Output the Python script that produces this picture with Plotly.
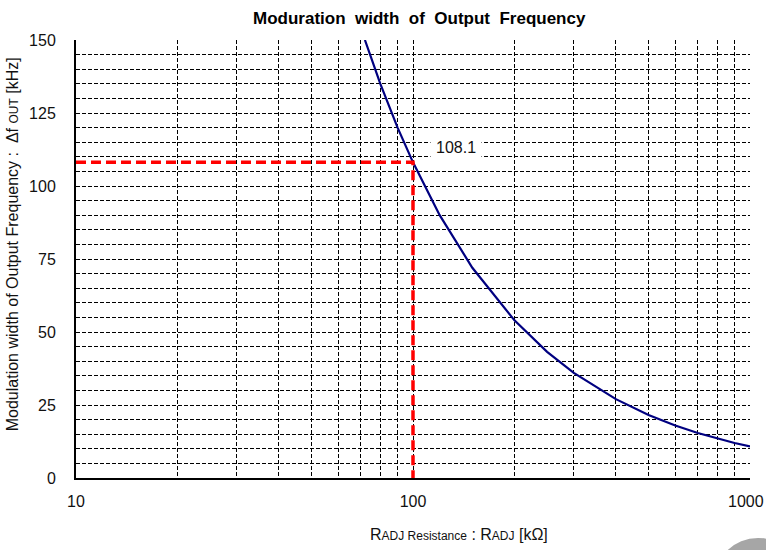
import math
import plotly.graph_objects as go

# Data
r_adj = [72, 80, 90, 100, 120, 150, 200, 250, 300, 400, 500, 600, 700, 800, 900, 1000]
delta_f = [150, 135, 120, 108.1, 90, 72, 54, 43.2, 36, 27, 21.6, 18, 15.4, 13.5, 12, 10.8]
marker_x = [10, 100, 100]
marker_y = [108.1, 108.1, 0]
marker_label = "108.1"
x_tickvals = [10, 20, 30, 40, 50, 60, 70, 80, 90, 100, 200, 300, 400, 500, 600, 700, 800, 900, 1000]
x_ticktext = ["10", "", "", "", "", "", "", "", "", "100", "", "", "", "", "", "", "", "", ""]
x_edge_label = (1000, "1000")
y_tickvals = list(range(0, 151, 5))
y_ticktext = [str(v) if v % 25 == 0 else "" for v in y_tickvals]

W, H = 766, 550
L, R, T, B = 76, 16, 39.5, 72
pw, ph = W - L - R, H - T - B

def px(x):
    return (x - L) / pw

def py(y):
    return (H - B - y) / ph

FONT = "Liberation Sans, Arial, sans-serif"

fig = go.Figure()
fig.add_trace(go.Scatter(x=r_adj, y=delta_f, mode="lines",
                         line=dict(color="#000080", width=2.2), hoverinfo="x+y"))
fig.add_trace(go.Scatter(x=marker_x, y=marker_y, mode="lines",
                         line=dict(color="#ff0000", width=3.5, dash="10px,5px")))

fig.update_layout(
    width=W, height=H,
    margin=dict(l=L, r=R, t=T, b=B),
    paper_bgcolor="white", plot_bgcolor="white",
    showlegend=False,
    font=dict(family=FONT, color="#111111", size=16),
)
fig.update_xaxes(type="log", range=[1, 3], tickvals=x_tickvals, ticktext=x_ticktext,
                 showgrid=True, gridcolor="black", griddash="4px,2px", gridwidth=1,
                 showline=True, linecolor="black", linewidth=2, ticks="",
                 ticklabelstandoff=8, zeroline=False, automargin=False,
                 ticklabeloverflow="allow", tickfont=dict(size=16))
fig.update_yaxes(range=[0, 150], tickvals=y_tickvals, ticktext=y_ticktext,
                 showgrid=True, gridcolor="black", griddash="4px,2px", gridwidth=1,
                 showline=True, linecolor="black", linewidth=2, ticks="",
                 ticklabelstandoff=15, zeroline=False, automargin=False,
                 ticklabeloverflow="allow", tickfont=dict(size=16))

ann = dict(xref="paper", yref="paper", xanchor="center", yanchor="middle", showarrow=False)
fig.add_annotation(x=px(419), y=py(18), text="<b>Moduration  width  of  Output  Frequency</b>",
                   font=dict(size=17, color="black"), **ann)
fig.add_annotation(x=px(12), y=py(244), textangle=-90,
                   text="Modulation width of Output Frequency :  Δf <span style='font-size:12px'>OUT</span> [kHz]",
                   font=dict(size=16, color="#111111"), **ann)
fig.add_annotation(x=px(459), y=py(535),
                   text="R<span style='font-size:12px'>ADJ Resistance</span> : R<span style='font-size:12px'>ADJ</span> [kΩ]",
                   font=dict(size=16, color="#111111"), **ann)
fig.add_annotation(x=px(456), y=py(147), text=marker_label, bgcolor="white", borderpad=5,
                   font=dict(size=16, color="#111111"), **ann)
# right-edge tick label, nudged so it stays inside the page
fig.add_annotation(x=math.log10(x_edge_label[0]), xref="x", y=py(502), yref="paper",
                   text=x_edge_label[1], xanchor="center", yanchor="middle", xshift=-4,
                   showarrow=False, font=dict(size=16, color="#111111"))

fig.add_shape(type="circle", xref="paper", yref="paper",
              x0=px(758 - 44), x1=px(758 + 44), y0=py(582 + 44), y1=py(582 - 44),
              fillcolor="#a6a6a6", line=dict(width=0), layer="above")

fig.write_html("out.html", config={"displayModeBar": False},
               post_script="document.body.style.margin='0';document.body.style.overflow='hidden';")
